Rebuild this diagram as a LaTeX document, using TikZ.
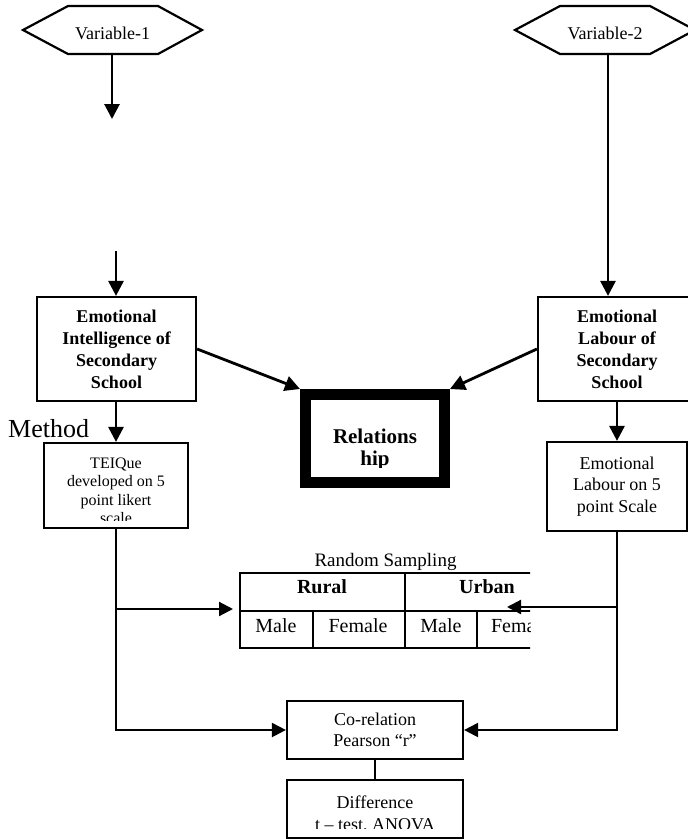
\documentclass[tikz,border=0pt]{standalone}
\usepackage{fontspec}
\setmainfont{Liberation Serif}
\usetikzlibrary{arrows.meta}
\begin{document}
\begin{tikzpicture}[x=1pt,y=-1pt,
  box/.style={draw,line width=2.2pt,align=center,inner sep=0pt},
  hexa/.style={draw,line width=2.2pt},
  arr/.style={line width=2.8pt,-{Triangle[length=15pt,width=15pt]}},
  conn/.style={line width=2.2pt,-{Triangle[length=14pt,width=14pt]}},
  tab/.style={line width=2.2pt},
  vtext/.style={font=\fontsize{18}{20}\selectfont,inner sep=0pt},
  bhead/.style={font=\fontsize{18}{22}\selectfont\bfseries},
  ntext/.style={font=\fontsize{18}{21.5}\selectfont},
  stext/.style={font=\fontsize{16}{18.5}\selectfont},
  cell/.style={font=\fontsize{20}{24}\selectfont,anchor=base,inner sep=0pt},
  bcell/.style={font=\fontsize{20}{24}\selectfont\bfseries,anchor=base,inner sep=0pt},
  ]
\useasboundingbox (0,0) rectangle (688,839);
\fill[white] (0,0) rectangle (688,839);
\clip (0,0) rectangle (688,839);

% Variable hexagons
\node[vtext,anchor=base] (v1) at (112.5,39) {Variable-1};
\draw[hexa] (23,30) -- (68,6) -- (158,6) -- (202,30) -- (158,54) -- (68,54) -- cycle;
\node[vtext,anchor=base] (v2) at (605,39) {Variable-2};
\draw[hexa] (515,30) -- (560,6) -- (650,6) -- (695,30) -- (650,54) -- (560,54) -- cycle;

% Upper boxes
\node[box,bhead,minimum width=159pt,minimum height=104pt] (lbox) at (116.5,349) {Emotional\\Intelligence of\\Secondary\\School};
\node[box,bhead,minimum width=158pt,minimum height=104pt] (rbox) at (617,349) {Emotional\\Labour of\\Secondary\\School};

% arrows from variables
\coordinate (v1b) at (112,54);
\coordinate (v1e) at (112,119);
\draw[arr] (v1b) -- (v1e);
\coordinate (la) at (116,251);
\draw[arr] (la) -- (la |- lbox.north);
\coordinate (v2b) at (608,54);
\draw[arr] (v2b) -- (v2b |- rbox.north);

% Relationship
\node[draw,line width=11pt,minimum width=139pt,minimum height=88pt,inner sep=0pt] (rel) at (375,438.5) {};
\begin{scope}
\clip (311,400) rectangle (439,467);
\node[font=\fontsize{21}{22}\selectfont\bfseries,align=center,anchor=north,inner sep=0pt] (reltext) at (375,428.5) {Relations\\hip};
\end{scope}
\draw[arr] (lbox.east) -- (rel.north west);
\draw[arr] (rbox.west) -- (rel.north east);

% Method
\node[font=\fontsize{26}{30}\selectfont,anchor=base west,inner sep=0pt] (meth) at (8,437) {Method};

% Lower boxes
\node[box,minimum width=144pt,minimum height=85pt] (teique) at (116,485.5) {};
\begin{scope}
\clip (45,444) rectangle (187,520);
\node[stext,align=center,anchor=north,inner sep=0pt] (teitext) at (116,457.5) {TEIQue\\developed on 5\\point likert\\scale};
\end{scope}
\node[box,ntext,minimum width=140pt,minimum height=89pt] (elbox) at (617,486.5) {Emotional\\Labour on 5\\point Scale};
\draw[arr] (lbox.south -| teique.north) -- (teique.north);
\draw[arr] (rbox.south) -- (elbox.north);

% Table
\node[font=\fontsize{19}{22}\selectfont,anchor=base,inner sep=0pt] (rs) at (385.5,566) {Random Sampling};
\begin{scope}
\clip (230,568) rectangle (530,656);
\draw[tab] (240,573) rectangle (570,648);
\draw[tab] (240,611) -- (570,611);
\draw[tab] (405,573) -- (405,648);
\draw[tab] (313,611) -- (313,648);
\draw[tab] (477,611) -- (477,648);
\node[bcell] (rural) at (322,593) {Rural};
\node[bcell] (urban) at (487,593) {Urban};
\node[cell] (m1) at (276,632) {Male};
\node[cell] (f1) at (358,632) {Female};
\node[cell] (m2) at (441,632) {Male};
\node[cell] (f2) at (520.5,632) {Female};
\end{scope}

% Bottom boxes
\node[box,font=\fontsize{18}{21}\selectfont,minimum width=176pt,minimum height=58pt] (corr) at (375,730) {Co-relation\\Pearson “r”};
\node[box,minimum width=176pt,minimum height=58pt] (diff) at (375,809) {};
\begin{scope}
\clip (288,781) rectangle (462,828);
\node[font=\fontsize{18}{22}\selectfont,align=center,anchor=north,inner sep=0pt] (difftext) at (375,795.7) {Difference\\t – test, ANOVA};
\end{scope}
\draw[line width=1.6pt] (corr.south) -- (diff.north);

% connectors
\coordinate (tabl) at (233,609);
\coordinate (tabr) at (507,607);
\draw[conn] (teique.south) |- (corr.west);
\draw[conn] (elbox.south) |- (corr.east);
\draw[conn] (teique.south |- tabl) -- (tabl);
\draw[conn] (elbox.south |- tabr) -- (tabr);
\end{tikzpicture}
\end{document}
